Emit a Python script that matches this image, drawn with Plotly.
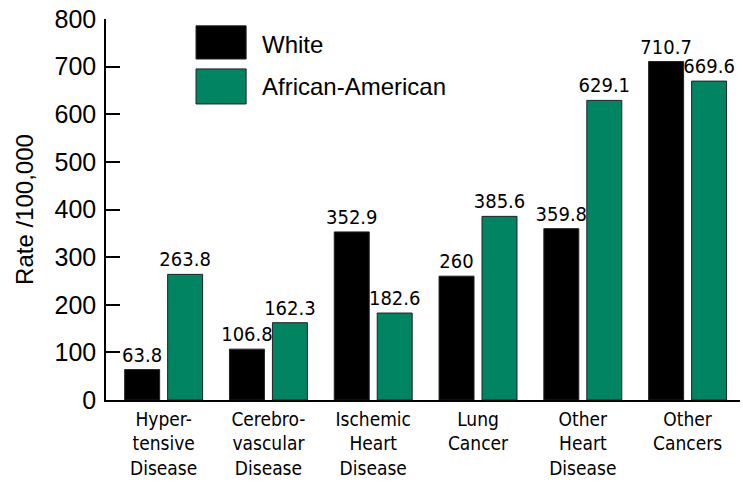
import plotly.graph_objects as go

categories = ["Hyper-<br>tensive<br>Disease", "Cerebro-<br>vascular<br>Disease",
              "Ischemic<br>Heart<br>Disease", "Lung<br>Cancer",
              "Other<br>Heart<br>Disease", "Other<br>Cancers"]
series_names = ["White", "African-American"]
white = [63.8, 106.8, 352.9, 260, 359.8, 710.7]
african_american = [263.8, 162.3, 182.6, 385.6, 629.1, 669.6]
y_ticks = [0, 100, 200, 300, 400, 500, 600, 700, 800]

colors = ["#000000", "#008461"]
narrow = "DejaVu Sans Condensed, Liberation Sans Narrow, Arial Narrow, sans-serif"
regular = "Liberation Sans, Arial, sans-serif"

fig = go.Figure()
for name, vals, col in zip(series_names, [white, african_american], colors):
    fig.add_trace(go.Bar(x=categories, y=vals, name=name,
                         marker=dict(color=col, line=dict(color="#222222", width=1)),
                         text=[f"{v:g}" for v in vals],
                         textposition="outside",
                         constraintext="none",
                         cliponaxis=False,
                         textfont=dict(family=narrow, size=20, color="black")))

# hand-made legend with big swatches
legend_y = [(0.982, 0.895, 0.934), (0.869, 0.777, 0.822)]
for name, col, (y1, y0, yt) in zip(series_names, colors, legend_y):
    fig.add_shape(type="rect", xref="paper", yref="paper",
                  x0=0.142, x1=0.221, y0=y0, y1=y1,
                  fillcolor=col, line=dict(color="#222222", width=1))
    fig.add_annotation(text=name, xref="paper", yref="paper", x=0.243, y=yt,
                       xanchor="left", yanchor="middle", showarrow=False,
                       font=dict(family=regular, size=24, color="black"))

fig.update_layout(width=743, height=484,
                  margin=dict(l=106, r=3, t=19, b=84),
                  barmode="group", bargap=0.18, bargroupgap=0.186,
                  showlegend=False,
                  paper_bgcolor="white", plot_bgcolor="white",
                  font=dict(family=regular, color="black"))

fig.update_xaxes(range=[-0.55, 5.5], showline=True, linecolor="black", linewidth=1.5,
                 showgrid=False, ticks="", ticklabelstandoff=1, automargin=False,
                 tickfont=dict(family=narrow, size=19, color="black"))
fig.update_yaxes(range=[0, 800], tickvals=y_ticks, showline=True, linecolor="black",
                 linewidth=1.5, showgrid=False, zeroline=False, automargin=False,
                 ticks="inside", ticklen=14, tickcolor="black", tickwidth=1.5,
                 ticklabelstandoff=3,
                 tickfont=dict(family=regular, size=25, color="black"),
                 title=dict(text="Rate /100,000", standoff=14,
                            font=dict(family=regular, size=24, color="black")))

fig.write_html("out.html", config={"displayModeBar": False},
               post_script="document.body.style.margin='0';")
